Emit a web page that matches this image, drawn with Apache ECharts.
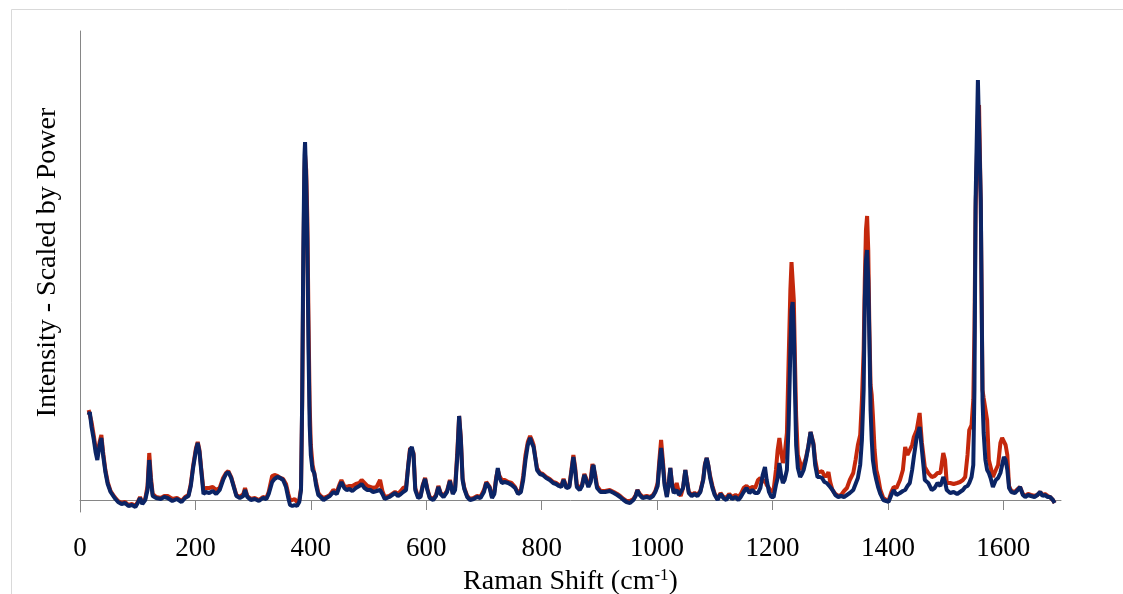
<!DOCTYPE html>
<html>
<head>
<meta charset="utf-8">
<script src="https://cdn.jsdelivr.net/npm/echarts@6/dist/echarts.min.js"></script>
<style>
html,body{margin:0;padding:0;background:#fff;}
#c{width:1123px;height:594px;}
</style>
</head>
<body>
<div id="c"></div>
<script>
// Raman shift (cm-1)
const shift = [
15,17,20,24,27,30,34,37,40,44,
48,53,60,66,72,78,84,90,96,100,
104,108,113,117,120,123,126,132,140,146,
152,160,168,176,182,188,192,196,201,204,
207,210,214,218,224,230,236,242,248,253,
257,262,267,271,277,283,286,290,296,303,
310,317,323,327,333,337,342,347,352,357,
361,364,368,372,376,380,383,385,387,389,
390,392,394,396,398,400,403,406,409,413,
417,422,427,433,439,445,450,453,458,462,
467,472,478,484,488,493,498,503,508,514,
520,524,528,531,536,541,546,551,556,560,
565,569,572,575,578,581,586,590,594,598,
602,606,612,617,621,625,630,636,641,646,
650,654,657,660,663,666,671,676,682,688,
694,700,704,707,710,714,718,721,724,727,
731,736,742,748,754,759,764,768,772,776,
780,783,786,789,792,797,802,808,814,820,
825,830,834,838,843,848,852,855,858,861,
866,870,874,877,881,885,888,890,893,896,
902,910,918,925,931,936,942,947,953,959,
963,966,970,975,982,988,993,997,1001,1004,
1007,1010,1013,1017,1020,1023,1026,1029,1034,1038,
1041,1045,1049,1052,1055,1060,1065,1070,1075,1080,
1083,1086,1089,1092,1096,1100,1105,1110,1115,1120,
1125,1130,1136,1141,1145,1150,1155,1160,1165,1170,
1175,1179,1183,1187,1190,1194,1198,1202,1206,1209,
1212,1215,1218,1221,1225,1228,1231,1233,1235,1237,
1239,1241,1244,1248,1251,1254,1258,1262,1266,1268,
1271,1274,1278,1282,1286,1290,1294,1297,1300,1304,
1309,1314,1319,1324,1329,1334,1340,1344,1348,1352,
1355,1358,1360,1362,1364,1366,1368,1370,1372,1374,
1377,1380,1383,1387,1392,1397,1401,1406,1410,1415,
1421,1426,1430,1434,1438,1442,1445,1450,1455,1459,
1464,1470,1476,1481,1486,1491,1496,1499,1502,1508,
1514,1520,1525,1530,1534,1538,1541,1545,1548,1550,
1552,1556,1558,1561,1564,1566,1569,1572,1575,1578,
1582,1587,1591,1595,1598,1601,1604,1607,1610,1614,
1620,1625,1629,1634,1638,1643,1648,1654,1659,1664,
1668,1672,1677,1681,1686,1689
];

// Intensity, red spectrum
const redIntensity = [
90,92,78,64,52,44,58,65,48,30,
18,9,3,-1,-3,-2,-5,-4,-6,-2,
3,-3,1,14,47,22,6,3,2,4,
4,1,2,-1,3,5,16,34,52,58,
50,32,10,12,12,13,10,12,22,27,
29,23,13,5,3,6,12,4,1,2,
0,3,2,8,24,25,24,22,21,16,
6,0,0,1,-2,0,12,95,230,330,
345,330,280,180,95,55,35,33,18,7,
4,2,3,5,10,8,16,20,14,13,
14,14,16,17,20,17,14,13,12,13,
20,9,3,1,4,6,8,6,9,12,
13,36,52,52,47,12,3,4,15,22,
11,3,1,5,14,7,4,9,20,7,
12,50,84,62,22,12,4,1,2,4,
3,10,18,20,13,3,8,22,30,24,
20,20,18,17,13,7,10,24,45,58,
64,60,55,43,32,27,26,23,21,18,
17,15,14,21,13,14,32,45,33,15,
12,15,26,22,14,20,36,37,25,14,
9,9,10,8,6,4,1,-1,-1,1,
5,10,6,3,4,3,5,9,17,40,
60,40,18,4,15,32,16,8,17,7,
4,12,30,19,8,5,7,5,9,21,
36,42,34,24,14,6,1,7,3,2,
6,3,5,3,6,12,14,11,13,12,
20,22,18,20,15,12,8,10,30,50,
62,48,37,45,67,140,210,238,240,200,
140,85,45,37,30,32,42,53,68,70,
57,40,28,28,29,24,24,28,18,10,
6,4,5,9,12,20,27,40,55,65,
100,150,220,270,284,250,170,115,105,85,
50,30,23,10,2,0,-1,8,13,12,
20,30,53,45,50,55,63,70,87,57,
33,27,23,24,27,27,47,40,17,17,
16,17,18,20,23,45,70,75,100,170,
290,385,395,295,110,102,100,80,40,33,
23,30,35,57,62,60,55,45,14,9,
8,11,13,6,4,6,5,4,5,8,
5,6,4,3,0,-3
];

// Intensity, blue spectrum
const blueIntensity = [
85,88,73,60,48,40,55,62,45,28,
16,8,2,-2,-4,-3,-6,-5,-7,-3,
2,-4,0,10,40,18,4,2,1,3,
2,-1,1,-2,2,4,14,32,50,57,
48,30,6,8,7,9,6,10,20,26,
28,22,12,4,2,4,10,3,0,1,
-1,2,1,6,18,21,23,22,20,13,
2,-5,-6,-5,-6,-2,10,100,250,345,
358,320,260,150,75,45,30,27,15,5,
3,0,2,4,8,6,14,18,12,10,
11,9,12,14,16,12,10,10,8,9,
10,6,1,0,3,5,7,4,6,8,
10,35,50,53,45,10,2,3,14,21,
10,2,0,4,13,6,3,8,19,6,
10,45,84,60,20,11,3,0,1,3,
2,8,17,19,12,2,6,20,32,22,
17,18,17,15,12,6,8,20,40,55,
62,57,53,42,30,26,25,22,20,17,
16,14,13,20,12,13,30,43,30,13,
10,14,25,20,13,18,32,35,22,12,
8,8,9,7,5,3,0,-2,-3,0,
4,10,5,2,3,2,4,8,14,35,
52,35,15,3,15,32,15,7,10,5,
3,12,30,18,7,4,6,4,8,20,
35,42,34,22,12,5,0,6,2,0,
5,1,3,0,3,8,12,7,10,7,
7,12,25,33,20,8,3,3,15,22,
37,25,17,20,30,75,150,190,198,170,
110,55,32,23,26,30,40,53,68,70,
55,35,23,23,22,18,17,17,13,10,
5,3,4,3,5,7,10,16,22,35,
60,110,200,240,250,220,160,90,60,40,
28,20,13,6,0,-1,-2,5,10,5,
7,9,10,14,17,30,43,63,73,50,
20,17,10,12,17,14,23,18,10,7,
8,6,8,10,13,14,17,23,35,110,
300,420,418,300,100,67,40,30,27,22,
13,20,22,27,35,43,40,30,12,8,
7,10,13,5,3,5,4,3,5,8,
4,5,3,3,0,-3
];

const xTicks = [0,200,400,600,800,1000,1200,1400,1600];

const redData = shift.map((x,i)=>[x, redIntensity[i]]);
const blueData = shift.map((x,i)=>[x, blueIntensity[i]]);

const chart = echarts.init(document.getElementById('c'), null, {renderer:'canvas'});
const font = '"Liberation Serif", "Times New Roman", serif';
chart.setOption({
  animation:false,
  backgroundColor:'#ffffff',
  graphic:[{
    type:'rect', left:9, top:7, silent:true, z:-10,
    shape:{x:0,y:0,width:1200,height:700},
    style:{fill:'none', stroke:'#d9d9d9', lineWidth:1}
  }],
  grid:{left:80, right:62, top:31, bottom:82, containLabel:false, outerBoundsMode:'none'},
  xAxis:{
    type:'value', min:0, max:1700, interval:200,
    name:'Raman Shift (cm{sup|-1})',
    nameLocation:'middle', nameGap:54,
    nameTextStyle:{fontFamily:font, fontSize:28, color:'#000',
      rich:{sup:{fontFamily:font, fontSize:17, color:'#000', verticalAlign:'top', padding:[0,0,12,0]}}},
    axisLine:{onZero:true, lineStyle:{color:'#868686', width:1}},
    axisTick:{show:true, length:10, inside:false, customValues:xTicks, lineStyle:{color:'#868686'}},
    axisLabel:{fontFamily:font, fontSize:27, color:'#000', margin:23, customValues:xTicks,
      formatter:function(v){return String(v);}},
    splitLine:{show:false}
  },
  yAxis:{
    type:'value', min:-12, max:469,
    name:'Intensity - Scaled by Power',
    nameLocation:'middle', nameGap:18,
    nameTextStyle:{fontFamily:font, fontSize:28, color:'#000', padding:[0,0,0,18]},
    axisLine:{show:true, onZero:false, lineStyle:{color:'#868686', width:1}},
    axisTick:{show:false},
    axisLabel:{show:false},
    splitLine:{show:false}
  },
  series:[
    {type:'line', name:'red', data:redData, showSymbol:false, smooth:false,
     lineStyle:{color:'#c4280c', width:4}, itemStyle:{color:'#c4280c'}, z:2},
    {type:'line', name:'blue', data:blueData, showSymbol:false, smooth:false,
     lineStyle:{color:'#0b2465', width:4}, itemStyle:{color:'#0b2465'}, z:3}
  ]
});
</script>
</body>
</html>
